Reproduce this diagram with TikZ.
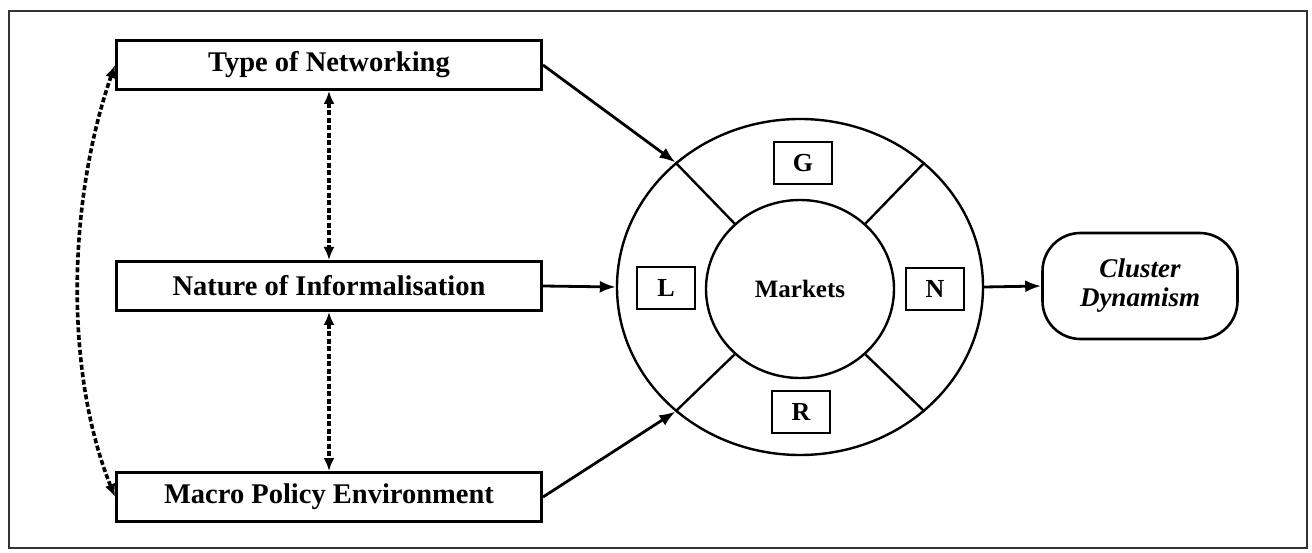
\documentclass[tikz,border=0pt]{standalone}
\usepackage{fontspec}
\setmainfont{Liberation Serif}
\usetikzlibrary{shapes.geometric,arrows.meta}

\begin{document}
\begin{tikzpicture}[x=1pt,y=-1pt,
  factor/.style={draw,line width=3pt,minimum width=425pt,minimum height=49pt,inner sep=0pt,font=\fontsize{28.5}{30}\selectfont\bfseries},
  letterbox/.style={draw,line width=2.6pt,minimum width=58pt,minimum height=42pt,inner sep=0pt,font=\fontsize{26}{28}\selectfont\bfseries},
  link/.style={line width=2.8pt,-{Latex[length=16pt,width=12pt]}},
  both ways/.style={line width=3.6pt,dash pattern=on 5pt off 2.5pt,{Latex[length=13pt,width=11pt]}-{Latex[length=13pt,width=11pt]}},
  spoke/.style={line width=2.4pt}]

\useasboundingbox (0,0) rectangle (1312,553);
\draw[line width=2pt,black!80] (9,11) rectangle (1307,548);

\begin{scope}
% factors on the left
\node[factor] (net) at (329,65) {Type of Networking};
\node[factor] (inf) at (329,286) {Nature of Informalisation};
\node[factor] (pol) at (329,497) {Macro Policy Environment};

% ring round the markets
\node[draw,ellipse,line width=2.4pt,minimum width=366pt,minimum height=336pt,inner sep=0pt] (ring) at (800,287) {};
\node[draw,ellipse,line width=2.4pt,minimum width=188pt,minimum height=178pt,inner sep=0pt,font=\fontsize{25}{27}\selectfont\bfseries] (mkt) at (800,289) {Markets};
\foreach \a in {45,135,225,315}
  \draw[spoke] (mkt.\a) -- (ring.\a);

\node[letterbox] (g) at (803,163) {G};
\node[letterbox] (l) at (666,288) {L};
\node[letterbox] (n) at (935,289) {N};
\node[letterbox] (r) at (801,412) {R};

\node[draw,rounded corners=38pt,line width=2.6pt,minimum width=195pt,minimum height=106pt,inner sep=0pt,align=center,font=\fontsize{27}{29}\selectfont\bfseries\itshape] (cd) at (1140,286) {Cluster\\Dynamism};

% connectors
\draw[link] (net.east) -- (ring.135);
\draw[link] (inf.east) -- (ring.west);
\draw[link] (pol.east) -- (ring.225);
\draw[link] (ring.east) -- (cd.west);

\draw[both ways] (net.south) -- (inf.north);
\draw[both ways] (inf.south) -- (pol.north);
\draw[both ways] (net.west) .. controls (68,200) and (64,370) .. (pol.west);
\end{scope}

\end{tikzpicture}
\end{document}
